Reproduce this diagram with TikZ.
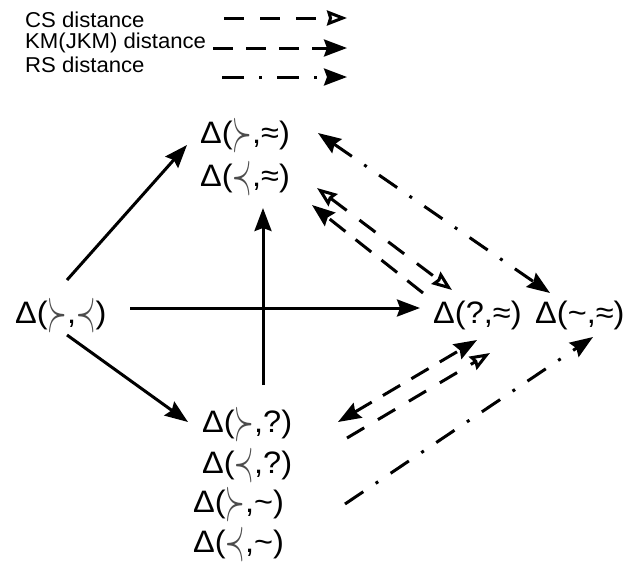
\documentclass[tikz,border=0pt]{standalone}
\usepackage{fontspec}
\usepackage{graphicx}
\usetikzlibrary{arrows.meta}
\setmainfont{Liberation Sans}
\newfontfamily\deltafont[FakeStretch=1.05]{Liberation Sans}
\newfontfamily\legendfont[FakeStretch=1.03]{Liberation Sans}
\newcommand\gsucc{\textcolor{black!70}{\raisebox{-7pt}{\scalebox{1.0}[2.4]{$\succ$}}}}
\newcommand\gprec{\textcolor{black!70}{\raisebox{-7pt}{\scalebox{1.0}[2.4]{$\prec$}}}}
\tikzset{
  fullhead/.tip={Stealth[length=23pt,width=17pt,inset=3pt]},
  openhead/.tip={Stealth[open,length=20pt,width=15pt,inset=2pt]},
  delta/.style={anchor=base west,inner sep=0pt,font=\deltafont\fontsize{31}{33}\selectfont},
  legend/.style={anchor=base west,inner sep=0pt,font=\legendfont\fontsize{21.5}{23}\selectfont},
  flow/.style={line width=3pt,-fullhead},
  csline/.style={line width=3pt,dash pattern=on 20pt off 16pt},
  kmline/.style={line width=3pt,dash pattern=on 20pt off 13pt},
  rsline/.style={line width=3pt,dash pattern=on 22pt off 15pt on 3pt off 15pt},
}

\begin{document}
\begin{tikzpicture}[x=1pt,y=-1pt]
\useasboundingbox (0,0) rectangle (630,565);

% legend
\node[legend] (lcs) at (25,27) {CS distance};
\node[legend] (lkm) at (25,48) {KM(JKM) distance};
\node[legend] (lrs) at (25,72) {RS distance};
\draw[csline,-openhead] ([shift={(199,-9)}]lcs.base west) -- ++(123,0);
\draw[kmline,-fullhead] ([shift={(188,0)}]lkm.base west) -- ++(134,0);
\draw[rsline,-fullhead] ([shift={(197,5)}]lrs.base west) -- ++(125,0);

% nodes
\node[delta] (sp) at (15,323) {Δ(\gsucc,\gprec)};
\node[delta] (sa) at (200,143) {Δ(\gsucc,≈)};
\node[delta] (pa) at (200,186) {Δ(\gprec,≈)};
\node[delta] (qa) at (433,323) {Δ(?,≈)};
\node[delta] (ta) at (535,323) {Δ(\char`~,≈)};
\node[delta] (sq) at (202,432) {Δ(\gsucc,?)};
\node[delta] (pq) at (202,473) {Δ(\gprec,?)};
\node[delta] (st) at (193,512) {Δ(\gsucc,\char`~)};
\node[delta] (pt) at (193,552) {Δ(\gprec,\char`~)};

% solid arrows
\draw[flow] ([shift={(52,-43)}]sp.base west) -- ([shift={(-13,2)}]sa.base west);
\draw[flow] ([shift={(52,12)}]sp.base west) -- ([shift={(-14,-10)}]sq.base west);
\draw[flow] ([shift={(115,-15)}]sp.base west) -- ([shift={(-13,-15)}]qa.base west);
\draw[flow] ([shift={(61,-47)}]sq.base west) -- ([shift={(63,22)}]pa.base west);

% distances
\draw[rsline,fullhead-fullhead] ([shift={(118,-10)}]sa.base west) -- ([shift={(15,-30)}]ta.base west);
\draw[csline,openhead-openhead] ([shift={(117,2)}]pa.base west) -- ([shift={(19,-33)}]qa.base west);
\draw[kmline,-fullhead] ([shift={(-10,-30)}]qa.base west) -- ([shift={(112,19)}]pa.base west);
\draw[kmline,fullhead-fullhead] ([shift={(136,-10)}]sq.base west) -- ([shift={(44,17)}]qa.base west);
\draw[csline,-openhead] ([shift={(145,6)}]sq.base west) -- ([shift={(57,30)}]qa.base west);
\draw[rsline,-fullhead] ([shift={(152,-8)}]st.base west) -- ([shift={(58,14)}]ta.base west);
\end{tikzpicture}
\end{document}
